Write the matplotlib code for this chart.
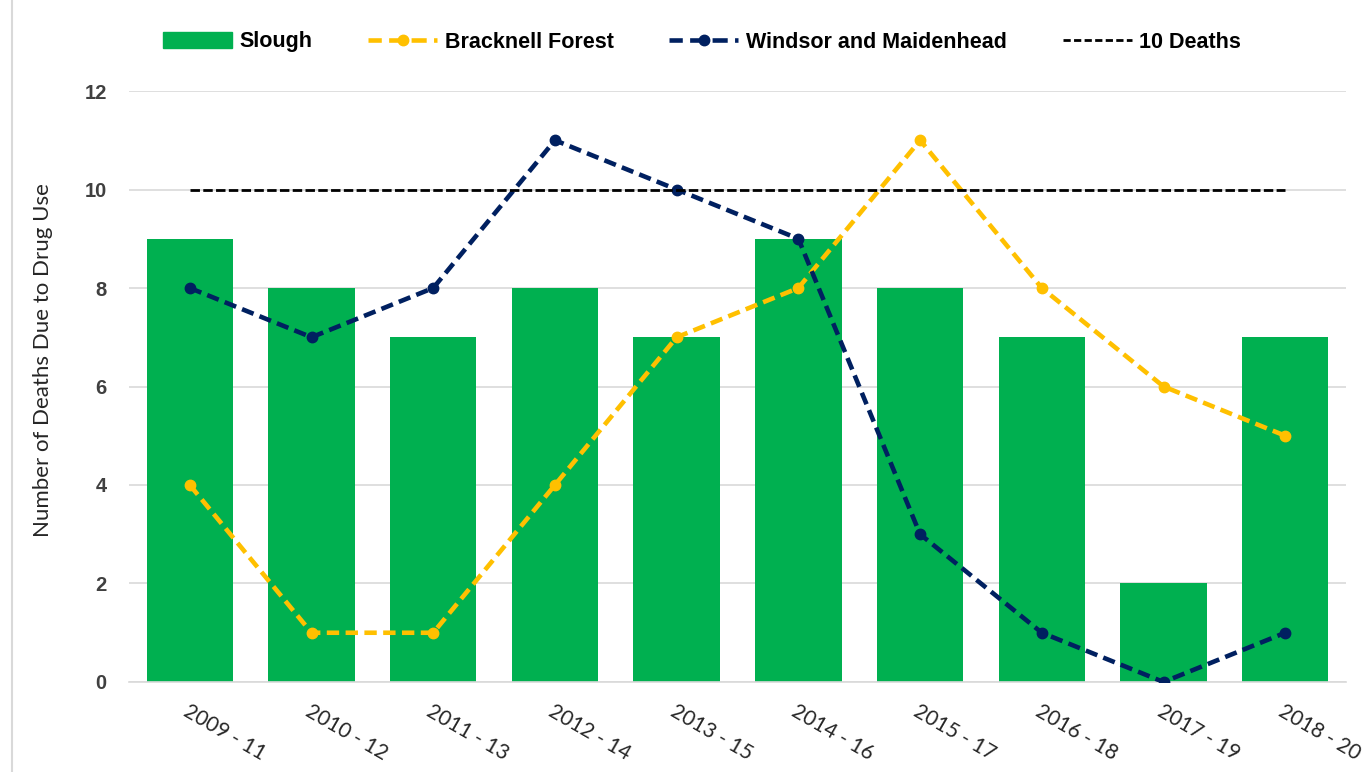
import numpy as np
import matplotlib
matplotlib.use('Agg')
import matplotlib.pyplot as plt
from matplotlib.lines import Line2D

# dados
periodos = ['2009 - 11', '2010 - 12', '2011 - 13', '2012 - 14', '2013 - 15',
            '2014 - 16', '2015 - 17', '2016 - 18', '2017 - 19', '2018 - 20']
slough = [9, 8, 7, 8, 7, 9, 8, 7, 2, 7]
bracknell = [4, 1, 1, 4, 7, 8, 11, 8, 6, 5]
windsor = [8, 7, 8, 11, 10, 9, 3, 1, 0, 1]
limite = [10] * len(periodos)

verde = '#00B050'
amarelo = '#FFC000'
azul = '#002060'
cinza = '#D9D9D9'

fig = plt.figure(figsize=(13.63, 7.72), dpi=100)
ax = fig.add_axes([0.0946, 0.1166, 0.893, 0.7655])

x = np.arange(len(periodos))
ax.bar(x, slough, width=0.71, color=verde, zorder=2)

tracejado = (0, (2.7, 1.4))
ax.plot(x, bracknell, color=amarelo, linewidth=3.3, linestyle=tracejado,
        marker='o', markersize=7.5, zorder=3)
ax.plot(x, windsor, color=azul, linewidth=3.3, linestyle=tracejado,
        marker='o', markersize=7.5, zorder=4)
ax.plot(x, limite, color='black', linewidth=2, linestyle=(0, (3.4, 1.2)),
        zorder=5)

ax.set_xlim(-0.5, len(periodos) - 0.5)
ax.set_ylim(0, 12)
ax.set_yticks(range(0, 13, 2))
ax.yaxis.grid(True, color=cinza, linewidth=1.2, zorder=0)
ax.set_axisbelow(True)
for lado in ['top', 'right', 'left']:
    ax.spines[lado].set_visible(False)
ax.spines['bottom'].set_color(cinza)
ax.spines['bottom'].set_linewidth(1.2)
ax.tick_params(axis='both', length=0)
ax.tick_params(axis='y', pad=16)
ax.tick_params(axis='x', pad=14)

for t in ax.get_yticklabels():
    t.set_fontfamily('Liberation Sans')
    t.set_fontweight('bold')
    t.set_fontsize(14.5)
    t.set_color('#404040')

ax.set_xticks(x)
ax.set_xticklabels(periodos, rotation=-30, ha='left', va='top',
                   rotation_mode='anchor', fontsize=15, fontfamily='Lato',
                   color='#262626')

fig.text(43 / 1363, 1 - 360 / 772, 'Number of Deaths Due to Drug Use',
         rotation=90, ha='center', va='center', fontsize=16,
         fontfamily='Lato', color='#262626')

# borda esquerda do grafico original
fig.add_artist(Line2D([12 / 1363, 12 / 1363], [0, 1], color=cinza,
                      linewidth=1.5, transform=fig.transFigure))

handles = [
    plt.Rectangle((0, 0), 1, 1, color=verde),
    Line2D([], [], color=amarelo, linewidth=3.3, linestyle=(0.4, (3.3, 1.6)),
           marker='o', markersize=7.5),
    Line2D([], [], color=azul, linewidth=3.3, linestyle=(0.4, (3.3, 1.6)),
           marker='o', markersize=7.5),
    Line2D([], [], color='black', linewidth=2, linestyle=(0, (2.6, 1.2))),
]
nomes = ['Slough', 'Bracknell Forest', 'Windsor and Maidenhead', '10 Deaths']
fig.legend(handles, nomes, loc='center', bbox_to_anchor=(0.515, 1 - 42 / 772),
           ncol=4, frameon=False, handlelength=3.2, handletextpad=0.35,
           columnspacing=2.6,
           prop={'family': 'Liberation Sans', 'weight': 'bold', 'size': 15.5})

plt.savefig('out.png', dpi=100)
plt.close()
